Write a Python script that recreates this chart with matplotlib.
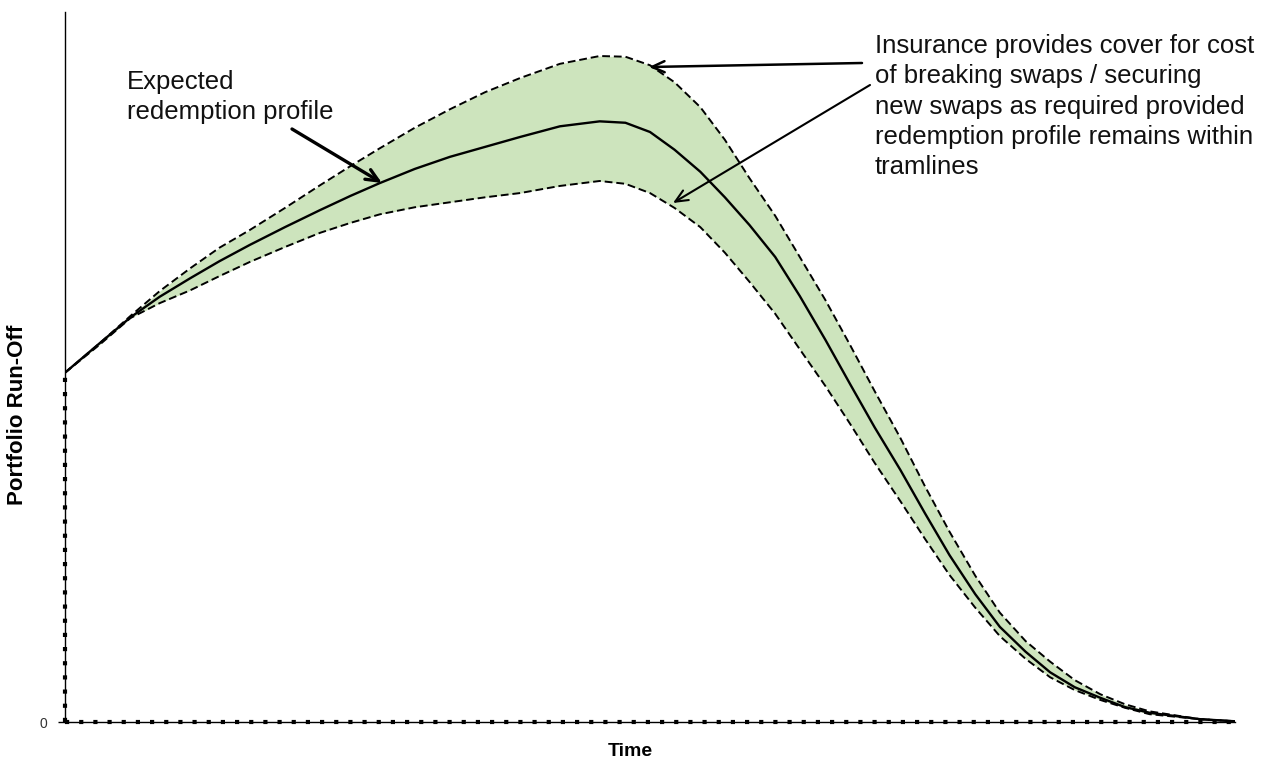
import matplotlib
matplotlib.use("Agg")
import matplotlib.pyplot as plt

plt.rcParams['font.family'] = ['Liberation Sans', 'DejaVu Sans']

# Time axis (0 = start, 100 = final redemption)
time = [0.0, 3.0, 5.6, 8.1, 10.7, 13.2, 15.8, 18.8, 21.8, 24.4, 26.9, 29.9,
        32.9, 35.9, 38.9, 42.3, 45.7, 47.9, 50.0, 52.1, 54.3, 56.4, 58.5,
        60.7, 62.8, 65.0, 67.1, 69.2, 71.4, 73.5, 75.6, 77.8, 79.9, 82.1,
        84.2, 86.3, 88.5, 90.6, 92.7, 97.0, 100.0]

# Expected redemption profile
expected = [49.2, 53.4, 57.0, 59.9, 62.5, 64.9, 67.2, 69.7, 72.1, 74.1, 75.9,
            77.9, 79.6, 81.0, 82.4, 83.9, 84.6, 84.4, 83.1, 80.6, 77.5, 73.9,
            70.0, 65.5, 60.0, 53.8, 47.6, 41.5, 35.5, 29.4, 23.5, 18.0, 13.4,
            9.9, 7.0, 4.9, 3.4, 2.1, 1.3, 0.4, 0.1]

# Upper and lower tramlines
upper = [49.2, 53.4, 57.2, 60.7, 63.9, 66.8, 69.3, 72.4, 75.6, 78.3, 80.8,
         83.7, 86.3, 88.7, 90.7, 92.7, 93.8, 93.7, 92.5, 90.1, 86.6, 82.0,
         76.6, 71.3, 65.5, 59.4, 53.1, 46.6, 40.0, 33.2, 26.8, 20.6, 15.4,
         11.4, 8.5, 5.9, 3.9, 2.5, 1.5, 0.4, 0.1]
lower = [49.2, 53.2, 56.9, 59.0, 60.8, 62.8, 64.8, 66.9, 68.9, 70.3, 71.5,
         72.5, 73.2, 73.9, 74.5, 75.5, 76.2, 75.8, 74.5, 72.4, 69.7, 66.1,
         62.0, 57.5, 52.5, 47.3, 42.0, 36.5, 31.1, 25.8, 20.7, 16.1, 12.1,
         8.9, 6.3, 4.5, 3.1, 2.0, 1.1, 0.4, 0.1]

y_ticks = [0]
y_tick_labels = ["0"]

fig = plt.figure(figsize=(12.63, 7.67), dpi=100)
ax = fig.add_axes([65 / 1263, 45 / 767, 1170 / 1263, 710 / 767])

ax.fill_between(time, lower, upper, color="#cde4bd", linewidth=0, zorder=1)
ax.plot(time, upper, color="black", linestyle=(0, (4, 2)), linewidth=1.4,
        zorder=3)
ax.plot(time, lower, color="black", linestyle=(0, (4, 2)), linewidth=1.4,
        zorder=3)
ax.plot(time, expected, color="black", linewidth=1.7, zorder=4,
        solid_joinstyle="round")

# Opening balance drop line and zero baseline, dotted
dots = (0, (1, 2.4))
ax.plot([0, 0], [0, expected[0]], color="black", linestyle=dots,
        linewidth=3, clip_on=False, zorder=5)
ax.plot([0, 100], [0, 0], color="black", linestyle=dots,
        linewidth=3, clip_on=False, zorder=5)

ax.set_xlim(0, 100)
ax.set_ylim(0, 100)
for side in ("top", "right"):
    ax.spines[side].set_visible(False)
ax.spines["left"].set_linewidth(1.0)
ax.spines["bottom"].set_linewidth(1.0)
ax.set_xticks([])
ax.set_yticks(y_ticks)
ax.set_yticklabels(y_tick_labels, fontsize=10, color="#333333")
ax.tick_params(axis="y", length=5, width=1, direction="out", pad=8)

fig.text(18 / 1263, 1 - 415 / 767, "Portfolio Run-Off", rotation=90,
         fontsize=16, fontweight="bold", ha="center", va="center")
fig.text(630 / 1263, 1 - 752 / 767, "Time", fontsize=14, fontweight="bold",
         ha="center", va="center")

def px(xp, yp):
    return (xp / 1263, 1 - yp / 767)

fig.text(*px(127, 70), "Expected\nredemption profile", fontsize=18.5,
         ha="left", va="top", color="#111111", linespacing=1.33)
fig.text(*px(875, 34),
         "Insurance provides cover for cost\nof breaking swaps / securing\n"
         "new swaps as required provided\nredemption profile remains within\n"
         "tramlines",
         fontsize=18.5, ha="left", va="top", color="#111111", linespacing=1.33)

arrow_kw = dict(arrowstyle="->,head_length=0.9,head_width=0.4", color="black",
                shrinkA=0, shrinkB=0)
ax.annotate("", xy=px(382, 183), xycoords="figure fraction",
            xytext=px(292, 129), textcoords="figure fraction",
            arrowprops=dict(arrow_kw, linewidth=2.4))
ax.annotate("", xy=px(649, 67), xycoords="figure fraction",
            xytext=px(862, 63), textcoords="figure fraction",
            arrowprops=dict(arrow_kw, linewidth=1.8))
ax.annotate("", xy=px(673, 203), xycoords="figure fraction",
            xytext=px(870, 85), textcoords="figure fraction",
            arrowprops=dict(arrow_kw, linewidth=1.5))

fig.savefig("out.png", dpi=100)
